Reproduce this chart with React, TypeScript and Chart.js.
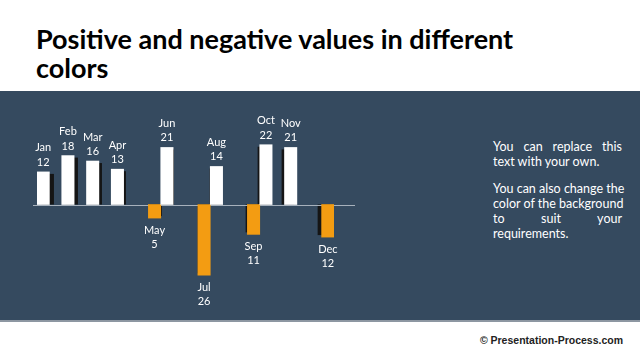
import React, { useEffect, useRef } from "react";
import { Chart, registerables } from "chart.js";

Chart.register(...registerables);

const months = ["Jan", "Feb", "Mar", "Apr", "May", "Jun", "Jul", "Aug", "Sep", "Oct", "Nov", "Dec"];
const values = [12, 18, 16, 13, -5, 21, -26, 14, -11, 22, 21, -12];
const positiveValues = values.map((v) => (v >= 0 ? v : null));
const negativeValues = values.map((v) => (v < 0 ? v : null));

const titleLines = ["Positive and negative values in different", "colors"];
const noteParagraphs = [
  ["You can replace this", "text with your own."],
  ["You can also change the", "color of the background", "to suit your", "requirements."],
];

const BAND = "#354a5f";
const ORANGE = "#f39c12";
const LABEL_FONT = "Lato, 'Open Sans', sans-serif";

const shadowPlugin = {
  id: "shadows",
  beforeDatasetsDraw(chart: any) {
    const ctx = chart.ctx;
    const cx = 195;
    ctx.save();
    chart.data.datasets.forEach((ds: any, di: number) => {
      const meta = chart.getDatasetMeta(di);
      meta.data.forEach((el: any, i: number) => {
        const v = ds.data[i];
        if (v === null || v === undefined) return;
        const { x, y, base, width } = el.getProps(["x", "y", "base", "width"], true);
        const dx = (cx - x) * 0.03;
        const left = x - width / 2 + dx;
        let top: number, bottom: number;
        if (v >= 0) {
          top = y + 2;
          bottom = base;
        } else {
          top = base;
          bottom = y - 2;
        }
        ctx.fillStyle = "#151515";
        ctx.fillRect(left, top, width, bottom - top);
      });
    });
    const y0 = chart.scales.y.getPixelForValue(0);
    ctx.strokeStyle = "#a7b1bc";
    ctx.lineWidth = 1;
    ctx.beginPath();
    ctx.moveTo(33, Math.round(y0) + 0.5);
    ctx.lineTo(355, Math.round(y0) + 0.5);
    ctx.stroke();
    ctx.restore();
  },
};

const labelPlugin = {
  id: "barLabels",
  afterDatasetsDraw(chart: any) {
    const ctx = chart.ctx;
    ctx.save();
    ctx.fillStyle = "#ffffff";
    ctx.font = `11px ${LABEL_FONT}`;
    ctx.textAlign = "center";
    ctx.textBaseline = "alphabetic";
    chart.data.datasets.forEach((ds: any, di: number) => {
      const meta = chart.getDatasetMeta(di);
      meta.data.forEach((el: any, i: number) => {
        const v = ds.data[i];
        if (v === null || v === undefined) return;
        const { x, y } = el.getProps(["x", "y"], true);
        const name = chart.data.labels[i];
        const num = String(Math.abs(v));
        if (v >= 0) {
          ctx.fillText(num, x, y - 6);
          ctx.fillText(name, x, y - 20.5);
        } else {
          ctx.fillText(name, x, y + 15.5);
          ctx.fillText(num, x, y + 30);
        }
      });
    });
    ctx.restore();
  },
};

function BarChart() {
  const ref = useRef<HTMLCanvasElement>(null);
  useEffect(() => {
    if (!ref.current) return;
    const chart = new Chart(ref.current, {
      type: "bar",
      data: {
        labels: months,
        datasets: [
          {
            label: "Positive",
            data: positiveValues,
            backgroundColor: "#ffffff",
            barPercentage: 1,
            categoryPercentage: 1,
          },
          {
            label: "Negative",
            data: negativeValues,
            backgroundColor: ORANGE,
            barPercentage: 1,
            categoryPercentage: 1,
          },
        ],
      },
      options: {
        animation: false,
        responsive: false,
        maintainAspectRatio: false,
        layout: { padding: { left: 37, right: 46, top: 32, bottom: 34 } },
        plugins: { legend: { display: false }, tooltip: { enabled: false } },
        scales: {
          x: { display: false },
          y: { display: false, min: -30, max: 30 },
        },
      },
      plugins: [shadowPlugin, labelPlugin],
    });
    return () => chart.destroy();
  }, []);
  return <canvas ref={ref} width={380} height={229} style={{ position: "absolute", left: 0, top: 0 }} />;
}

export default function App() {
  return (
    <div
      style={{
        position: "fixed",
        left: 0,
        top: 0,
        width: 640,
        height: 360,
        background: "#ffffff",
        overflow: "hidden",
      }}
    >
      <div
        style={{
          position: "absolute",
          left: 36,
          top: 24,
          fontFamily: "Lato, sans-serif",
          fontWeight: 700,
          fontSize: 27,
          lineHeight: "29px",
          color: "#000",
          whiteSpace: "nowrap",
        }}
      >
        {titleLines.map((t, i) => (
          <div key={i}>{t}</div>
        ))}
      </div>
      <div
        style={{
          position: "absolute",
          left: 0,
          top: 91,
          width: 640,
          height: 229,
          background: BAND,
        }}
      >
        <BarChart />
        <div
          style={{
            position: "absolute",
            left: 493,
            top: 48,
            width: 129,
            fontFamily: "Lato, sans-serif",
            fontSize: 12.5,
            lineHeight: "15px",
            color: "#ffffff",
          }}
        >
          {noteParagraphs.map((para, pi) => (
            <div key={pi} style={{ marginTop: pi === 0 ? 0 : 12 }}>
              {para.map((line, li) => (
                <div
                  key={li}
                  style={{
                    whiteSpace: "nowrap",
                    textAlign: li === para.length - 1 ? "left" : "justify",
                    textAlignLast: li === para.length - 1 ? "left" : "justify",
                  }}
                >
                  {line}
                </div>
              ))}
            </div>
          ))}
        </div>
      </div>
      <div style={{ position: "absolute", left: 0, top: 320, width: 640, height: 1.5, background: "#8d97a2" }} />
      <div
        style={{
          position: "absolute",
          right: 17,
          top: 334,
          fontFamily: "'Liberation Sans', Arial, sans-serif",
          fontSize: 10.5,
          color: "#222",
          fontWeight: 700,
        }}
      >
        © Presentation-Process.com
      </div>
    </div>
  );
}
